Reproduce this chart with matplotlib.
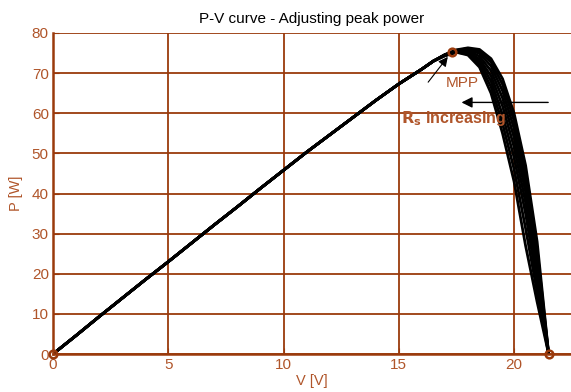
import matplotlib.pyplot as plt

plt.rcParams['font.family'] = ['Liberation Sans', 'DejaVu Sans']

# common rising branch of every curve
rise_v = [0, 1, 2, 3, 4, 5, 6, 7, 8, 9, 10, 11, 12, 13, 14, 15]
rise_p = [0, 4.6, 9.3, 13.9, 18.5, 23.0, 27.6, 32.2, 36.7, 41.3, 45.8, 50.3, 54.6, 58.9, 63.2, 67.3]

# knee region, one row per Rs value (lowest Rs first)
knee_v = [16.0, 16.5, 17.0, 17.5, 18.0, 18.5, 19.0, 19.5, 20.0, 20.5, 21.0, 21.5]
knee_p = [
    [71.0, 73.0, 74.6, 75.8, 76.3, 75.9, 73.6, 68.6, 60.0, 47.0, 28.0, 0],
    [71.0, 73.0, 74.6, 75.7, 76.1, 75.4, 72.8, 67.2, 58.2, 45.0, 26.0, 0],
    [71.0, 73.0, 74.6, 75.6, 75.9, 74.9, 71.8, 65.6, 56.2, 42.8, 24.0, 0],
    [71.0, 73.0, 74.5, 75.5, 75.6, 74.2, 70.6, 63.8, 54.0, 40.4, 22.0, 0],
    [71.0, 73.0, 74.5, 75.4, 75.3, 73.5, 69.3, 61.8, 51.6, 37.8, 20.0, 0],
    [71.0, 73.0, 74.4, 75.3, 75.1, 72.9, 68.0, 59.6, 49.0, 35.0, 17.8, 0],
    [71.0, 73.0, 74.4, 75.2, 74.8, 72.2, 66.6, 57.4, 46.1, 31.3, 15.5, 0],
    [71.0, 73.0, 74.3, 75.2, 74.5, 71.5, 65.0, 55.0, 43.0, 27.0, 13.0, 0],
]

# marked points: short circuit, MPP, open circuit
mark_v = [0, 17.3, 21.5]
mark_p = [0, 75.2, 0]

brown = '#9a3a0c'
txt = '#b0552a'

fig = plt.figure(figsize=(5.71, 3.92), dpi=100)
ax = fig.add_axes([53/571, 38/392, 518/571, 321/392])

for row in knee_p:
    ax.plot(rise_v + knee_v, rise_p + row, color='black', lw=2.0, solid_joinstyle='round')

ax.plot(mark_v, mark_p, 'o', ms=5.5, mfc='none', mec=brown, mew=1.8, zorder=5, clip_on=False)

ax.annotate('', xy=(17.2, 74.6), xytext=(16.2, 67.2),
            arrowprops=dict(arrowstyle='-|>', color='black', lw=0.8,
                            mutation_scale=14))
ax.text(17.75, 67.6, 'MPP', color=txt, fontsize=11, ha='center', va='center')

ax.annotate('', xy=(17.6, 62.7), xytext=(21.6, 62.7),
            arrowprops=dict(arrowstyle='-|>', color='black', lw=1.0,
                            mutation_scale=16))
ax.text(15.1, 58.7, r'$\mathbf{R_s}$ increasing', color=txt, fontsize=11.5,
        fontweight='bold', ha='left', va='center')

ax.set_xlim(0, 22.47)
ax.set_ylim(0, 80)
ax.set_xticks([0, 5, 10, 15, 20])
ax.set_yticks(range(0, 81, 10))
ax.grid(True, color=brown, lw=1.3)
ax.set_axisbelow(True)

for side in ['right', 'top']:
    ax.spines[side].set_visible(False)
for side in ['left', 'bottom']:
    ax.spines[side].set_color(brown)
    ax.spines[side].set_linewidth(1.8)

ax.tick_params(colors=brown, labelcolor=txt, labelsize=11, direction='in', length=4, pad=3)
ax.set_xlabel('V [V]', color=txt, fontsize=10.5, labelpad=1)
ax.set_ylabel('P [W]', color=txt, fontsize=10.5, labelpad=6)
ax.set_title('P-V curve - Adjusting peak power', fontsize=11, pad=7)

fig.savefig('out.png', dpi=100)
